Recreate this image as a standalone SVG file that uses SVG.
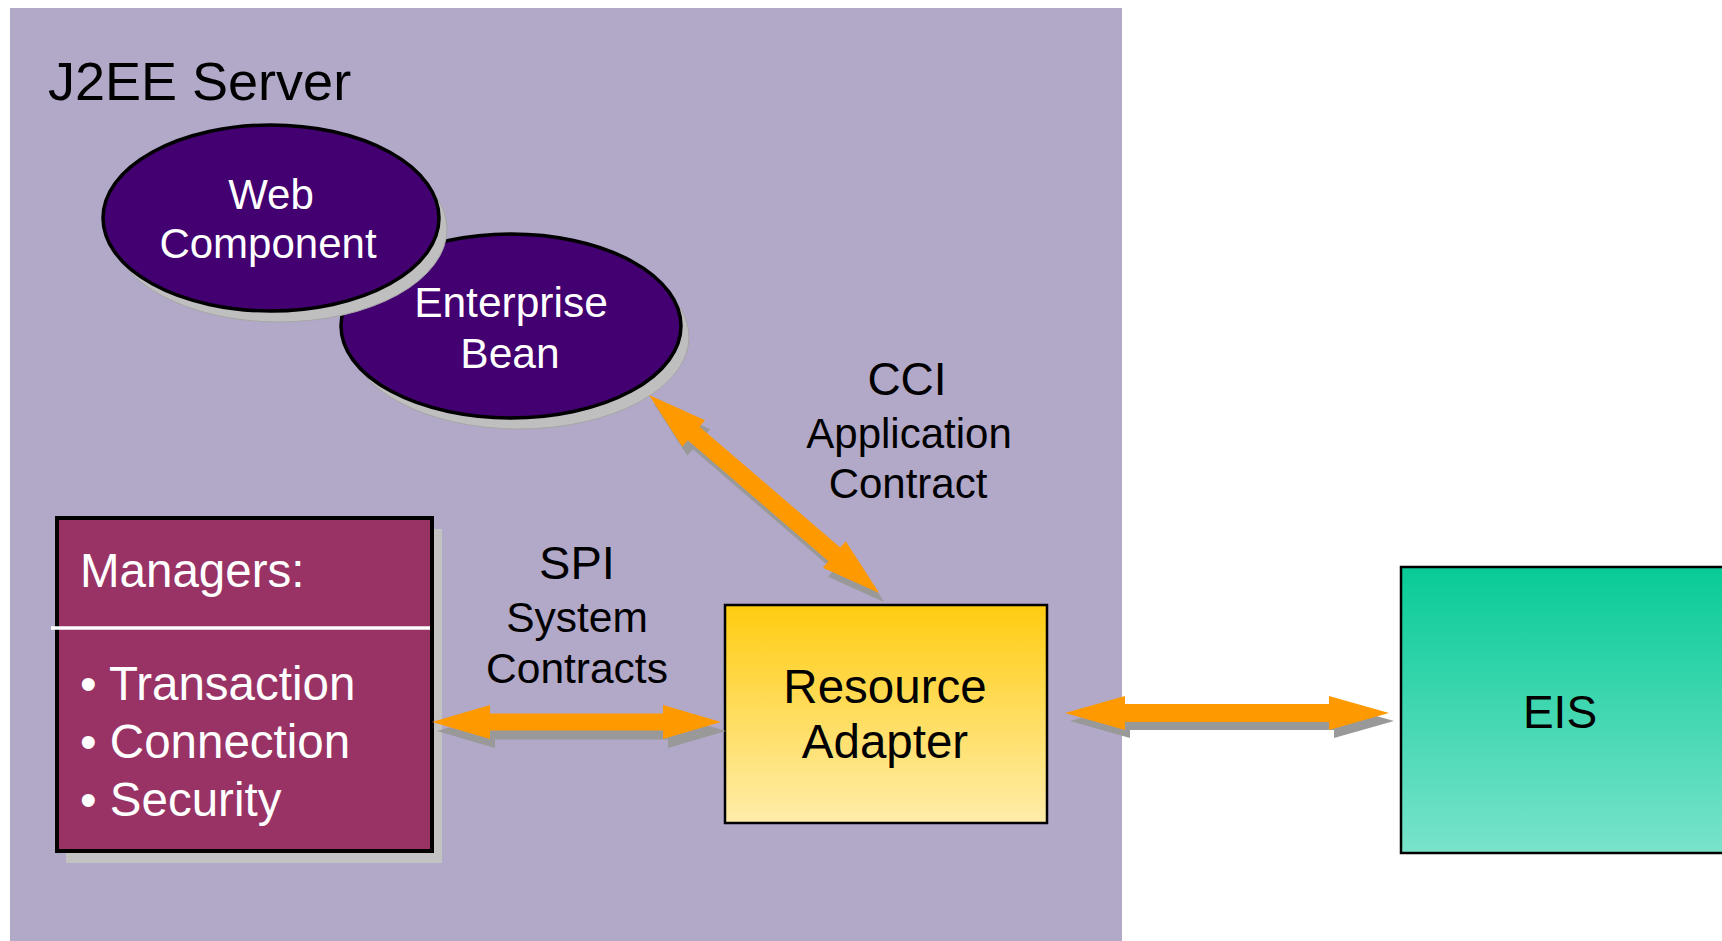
<svg xmlns="http://www.w3.org/2000/svg" width="1722" height="941" viewBox="0 0 1722 941">
<style>
text{font-family:"Liberation Sans",Arial,sans-serif}
.w{fill:#ffffff}
.b{fill:#000000}
.m{text-anchor:middle}
.ell{fill:#420070;stroke:#000;stroke-width:3.5}
.esh{fill:#bfbfbf;stroke:#a6a6a6;stroke-width:1}
.arr{fill:#ff9900}
.ash{fill:#999999}
</style>
<defs>
<linearGradient id="gRA" x1="0" y1="0" x2="0" y2="1">
<stop offset="0" stop-color="#ffcc11"/>
<stop offset="1" stop-color="#ffedaa"/>
</linearGradient>
<linearGradient id="gEIS" x1="0" y1="0" x2="0" y2="1">
<stop offset="0" stop-color="#08cb97"/>
<stop offset="1" stop-color="#79e3ca"/>
</linearGradient>
</defs>
<rect x="0" y="0" width="1722" height="941" fill="#ffffff"/>
<g id="j2ee-server">
<rect x="10" y="8" width="1112" height="940" fill="#b2a8c8"/>
<text x="48" y="100" font-size="54" class="b">J2EE Server</text>
</g>
<g id="enterprise-bean">
<ellipse cx="519" cy="337" rx="170" ry="92" class="esh"/>
<ellipse cx="511" cy="326" rx="170" ry="92" class="ell"/>
<text x="511" y="317" font-size="42.5" class="w m">Enterprise</text>
<text x="510" y="368" font-size="42.5" class="w m">Bean</text>
</g>
<g id="web-component">
<ellipse cx="279" cy="229" rx="168" ry="93" class="esh"/>
<ellipse cx="271" cy="218" rx="168" ry="93" class="ell"/>
<text x="271" y="209" font-size="42" class="w m">Web</text>
<text x="268" y="258" font-size="42" class="w m">Component</text>
</g>
<g id="managers">
<rect x="66" y="529" width="376" height="334" fill="#c2c2c2"/>
<rect x="57" y="518" width="375" height="333" fill="#993366" stroke="#000" stroke-width="4"/>
<line x1="51" y1="628" x2="430" y2="628" stroke="#fff" stroke-width="3.5"/>
<text x="80" y="587" font-size="47.5" class="w">Managers:</text>
<text x="80" y="700" font-size="47.5" class="w">• Transaction</text>
<text x="80" y="758" font-size="47.5" class="w">• Connection</text>
<text x="80" y="816" font-size="47.5" class="w">• Security</text>
</g>
<g id="resource-adapter">
<rect x="725" y="605" width="322" height="218" fill="url(#gRA)" stroke="#000" stroke-width="2.5"/>
<text x="885" y="703" font-size="47.5" class="b m">Resource</text>
<text x="885" y="758" font-size="47.5" class="b m">Adapter</text>
</g>
<g id="eis">
<rect x="1401" y="567" width="340" height="286" fill="url(#gEIS)" stroke="#000" stroke-width="2.5"/>
<text x="1560" y="728" font-size="46" class="b m">EIS</text>
</g>
<g id="labels">
<text x="577" y="579" font-size="47" class="b m">SPI</text>
<text x="577" y="632" font-size="42.5" class="b m">System</text>
<text x="577" y="683" font-size="42.5" class="b m">Contracts</text>
<text x="907" y="395" font-size="46" class="b m">CCI</text>
<text x="909" y="448" font-size="42" class="b m">Application</text>
<text x="908" y="498" font-size="42" class="b m">Contract</text>
</g>
<g id="connectors">
<polygon class="ash" transform="translate(437,731)" points="0,0 58,-17 58,-8.5 231,-8.5 231,-17 289,0 231,17 231,8.5 58,8.5 58,17"/>
<polygon class="arr" transform="translate(432,722)" points="0,0 58,-17 58,-8.5 231,-8.5 231,-17 289,0 231,17 231,8.5 58,8.5 58,17"/>
<polygon class="ash" transform="translate(1070,721)" points="0,0 60,-17 60,-9 264,-9 264,-17 324,0 264,17 264,9 60,9 60,17"/>
<polygon class="arr" transform="translate(1065,713)" points="0,0 60,-17 60,-9 264,-9 264,-17 324,0 264,17 264,9 60,9 60,17"/>
<polygon class="ash" transform="translate(654,404) rotate(40.7)" points="0,0 59,-17.5 59,-9 244.5,-9 244.5,-17.5 303.5,0 244.5,17.5 244.5,9 59,9 59,17.5"/>
<polygon class="arr" transform="translate(649,395) rotate(40.7)" points="0,0 59,-17.5 59,-9 244.5,-9 244.5,-17.5 303.5,0 244.5,17.5 244.5,9 59,9 59,17.5"/>
</g>
</svg>
